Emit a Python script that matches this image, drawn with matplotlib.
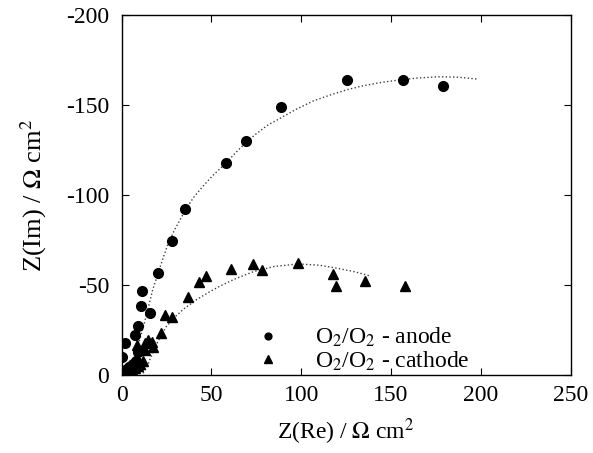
import matplotlib
matplotlib.use("Agg")
import matplotlib.pyplot as plt

plt.rcParams["font.family"] = ["Liberation Serif", "DejaVu Serif"]
plt.rcParams["mathtext.fontset"] = "stix"
plt.rcParams["axes.unicode_minus"] = False

# O2/O2 - anode (Nyquist data, Ohm cm^2)
anode_re = [0.3, 0.8, 1.5, 2.3, 3.2, 4.2, 5.3, 6.5, 7.8, 9.0, 0.0, 2.2, 7.7, 9.2,
            10.6, 15.9, 11.4, 20.1, 28.3, 35.5, 58.0, 69.4, 88.5, 125.6, 156.8, 178.7]
anode_im = [-0.5, -1.2, -2.0, -2.8, -3.5, -4.3, -5.2, -6.2, -7.5, -13.0, -10.2, -17.5, -22.2, -27.2,
            -38.3, -34.3, -46.8, -56.9, -74.6, -92.2, -117.6, -129.8, -148.7, -163.7, -163.9, -160.7]

# O2/O2 - cathode
cathode_re = [1.0, 2.0, 3.2, 4.5, 6.0, 7.5, 9.0, 10.5, 12.0, 8.6, 13.1, 13.3, 14.9, 17.0, 17.4,
              22.0, 24.2, 28.3, 37.2, 43.3, 47.1, 61.0, 73.1, 78.3, 98.5, 117.8, 119.5, 135.3, 157.5]
cathode_im = [-0.4, -1.0, -1.6, -2.3, -3.1, -4.0, -5.0, -6.3, -8.0, -16.7, -13.9, -17.6, -19.4, -18.5, -15.7,
              -23.5, -33.3, -32.4, -43.5, -51.8, -55.0, -59.1, -61.8, -58.2, -62.4, -55.9, -49.4, -52.2, -49.6]

# Fitted curves
anode_fit_re = [6.0, 7.5, 10.0, 12.5, 14.8, 17.2, 20.0, 23.0, 26.1, 30.0, 35.5, 40.0, 45.0, 51.0,
                58.0, 64.0, 69.4, 75.0, 81.0, 88.3, 97.0, 106.9, 116.0, 125.5, 135.0, 145.0,
                155.2, 165.0, 177.4, 188.0, 198.8]
anode_fit_im = [-5.0, -10.0, -19.0, -28.0, -37.0, -46.8, -55.5, -64.5, -73.5, -81.5, -91.5, -98.5, -104.5, -111.0,
                -117.6, -124.0, -129.3, -134.0, -138.6, -142.6, -147.5, -152.3, -155.5, -158.5, -160.8, -162.6,
                -164.0, -165.0, -165.7, -165.4, -164.3]

cathode_fit_re = [12.0, 14.0, 16.0, 18.5, 21.5, 25.0, 29.5, 34.4, 42.0, 49.5, 55.0, 63.0, 73.4, 85.0,
                  98.5, 110.0, 120.0, 130.0, 138.4]
cathode_fit_im = [-1.0, -4.0, -9.0, -15.0, -21.0, -27.0, -32.0, -36.5, -42.0, -46.5, -49.5, -53.3, -57.4, -60.3,
                  -61.7, -61.0, -59.3, -57.3, -55.0]

x_ticks = [0, 50, 100, 150, 200, 250]
y_ticks = [0, -50, -100, -150, -200]

fig = plt.figure(figsize=(5.93, 4.53), dpi=100)
ax = fig.add_axes([0.2049, 0.1722, 0.9624 - 0.2049, 0.9669 - 0.1722])

ax.plot(anode_fit_re, anode_fit_im, linestyle=":", color="0.25", linewidth=1.0, zorder=1)
ax.plot(cathode_fit_re, cathode_fit_im, linestyle=":", color="0.25", linewidth=1.0, zorder=1)

ax.plot(anode_re, anode_im, linestyle="none", marker="o", markersize=7, color="black",
        label=r"O$_2$/O$_2$ - anode", zorder=3)
ax.plot(cathode_re, cathode_im, linestyle="none", marker="^", markersize=7.5, color="black",
        label=r"O$_2$/O$_2$ - cathode", zorder=3)

ax.set_xlim(0, 250)
ax.set_ylim(0, -200)
ax.set_xticks(x_ticks)
ax.set_yticks(y_ticks)
ax.set_xticklabels([str(v) for v in x_ticks])
ax.set_yticklabels([str(v) for v in y_ticks])
ax.tick_params(direction="in", length=5, width=0.8, labelsize=17, top=True, right=True)
ax.tick_params(axis="x", pad=7)
ax.tick_params(axis="y", pad=9)
for s in ax.spines.values():
    s.set_linewidth(1.0)

ax.set_xlabel(r"Z(Re) / $\Omega$ cm$^2$", fontsize=17, labelpad=8)
ax.set_ylabel(r"Z(Im) / $\Omega$ cm$^2$", fontsize=19, labelpad=12)

leg = ax.legend(loc="lower left", bbox_to_anchor=(0.232, -0.046), frameon=False, fontsize=17,
                handletextpad=1.0, labelspacing=0.0, markerscale=0.7, borderpad=0.3)

fig.savefig("out.png", dpi=100)
